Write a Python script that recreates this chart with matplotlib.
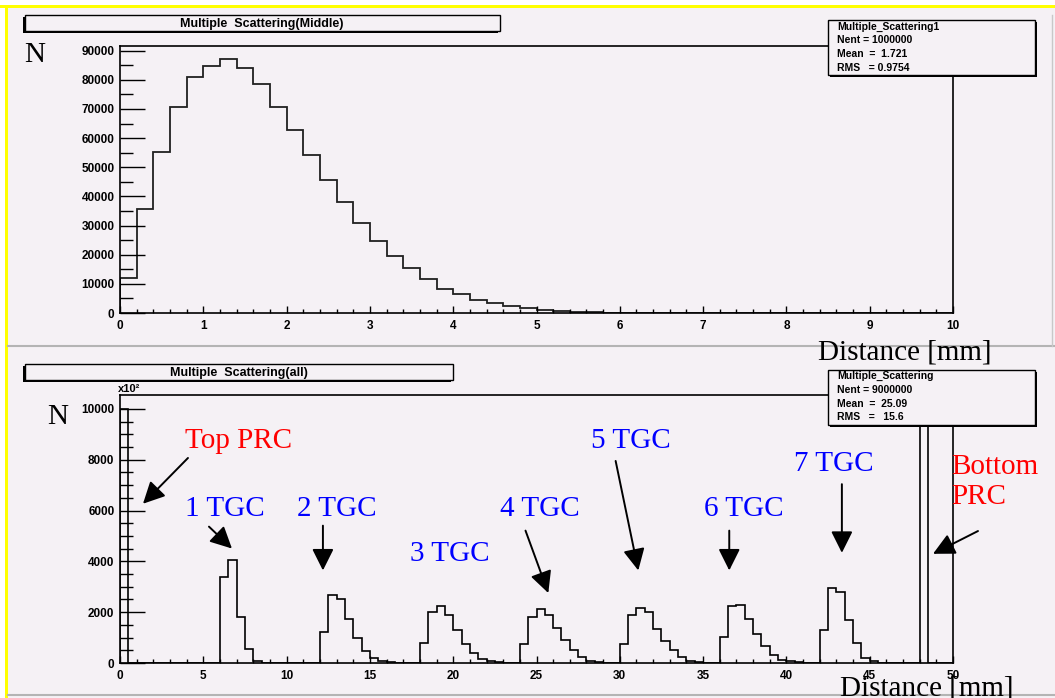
import numpy as np
import matplotlib
matplotlib.use("Agg")
import matplotlib.pyplot as plt
from matplotlib.patches import Rectangle

# --- data -------------------------------------------------------------
# upper histogram: distance in middle layer, 0.2 mm bins from 0 mm
mid_bin = 0.2
mid_counts = [12000, 35700, 55400, 70800, 80900, 84900, 87000, 84100, 78400, 70800,
              62900, 54200, 45600, 38100, 30900, 24800, 19400, 15400, 11600, 8240,
              6500, 4570, 3300, 2500, 1720, 1030, 560, 340, 200, 100]

# lower histogram: all layers, 0.5 mm bins, counts in units of 10^2
all_bin = 0.5
prc_top = [10000]
tgc1 = [3375, 4070, 1800, 570, 95]
tgc2 = [1230, 2675, 2515, 1720, 965, 475, 190, 70, 30]
tgc3 = [790, 2025, 2260, 1880, 1310, 755, 400, 175, 95, 40]
tgc4 = [730, 1800, 2145, 1880, 1365, 890, 530, 250, 95, 30]
tgc5 = [755, 1890, 2170, 2010, 1340, 870, 520, 240, 95, 30]
tgc6 = [1010, 2260, 2300, 1745, 1125, 675, 320, 135, 60, 20]
tgc7 = [1310, 2965, 2805, 1705, 770, 215, 60]
prc_bottom = [10000]
layer_starts = [0, 6, 12, 18, 24, 30, 36, 42, 48]
layers = [prc_top, tgc1, tgc2, tgc3, tgc4, tgc5, tgc6, tgc7, prc_bottom]

mid_stats = ["Multiple_Scattering1", "Nent = 1000000", "Mean  =  1.721", "RMS   = 0.9754"]
all_stats = ["Multiple_Scattering", "Nent = 9000000", "Mean  =  25.09", "RMS   =   15.6"]

# --- layout helpers (image pixels -> figure fraction) -----------------
W, H = 1055, 698
PAD = "#f5f1f5"
SANS = "Liberation Sans"
SERIF = "Liberation Serif"


def fx(x):
    return x / W


def fy(y):
    return 1 - y / H


def root_box(x0, y0, x1, y1, dx, dy):
    shadow = Rectangle((fx(x0 + dx), fy(y1 + dy)), (x1 - x0) / W, (y1 - y0) / H,
                       transform=fig.transFigure, facecolor="black", edgecolor="none", zorder=8)
    box = Rectangle((fx(x0), fy(y1)), (x1 - x0) / W, (y1 - y0) / H,
                    transform=fig.transFigure, facecolor=PAD, edgecolor="black", lw=1.0, zorder=9)
    fig.add_artist(shadow)
    fig.add_artist(box)


def style_axes(ax, xmaj, xmin, ymaj, ymin, xlim, ylim):
    ax.set_facecolor(PAD)
    ax.set_xlim(*xlim)
    ax.set_ylim(*ylim)
    ax.set_xticks(xmaj)
    ax.set_xticks(xmin, minor=True)
    ax.set_yticks(ymaj)
    ax.set_yticks(ymin, minor=True)
    ax.set_xticklabels([f"{v:g}" for v in xmaj])
    ax.set_yticklabels([f"{v:g}" for v in ymaj])
    ax.tick_params(axis="x", which="major", direction="in", length=5, width=1.0, pad=5)
    ax.tick_params(axis="x", which="minor", direction="in", length=3, width=1.0)
    ax.tick_params(axis="y", which="major", direction="in", length=18, width=1.0, pad=4)
    ax.tick_params(axis="y", which="minor", direction="in", length=9, width=1.0)
    for lab in ax.get_xticklabels() + ax.get_yticklabels():
        lab.set_fontfamily(SANS)
        lab.set_fontweight("bold")
        lab.set_fontsize(8.5)
    for sp in ax.spines.values():
        sp.set_linewidth(1.2)


fig = plt.figure(figsize=(W / 100, H / 100), dpi=100, facecolor="white")

# pad background, yellow border, separators
fig.add_artist(Rectangle((fx(8), 0), 1 - fx(8), fy(8), transform=fig.transFigure,
                         facecolor=PAD, edgecolor="none", zorder=-2))
fig.add_artist(Rectangle((0, fy(8)), 1, 3 / H, transform=fig.transFigure,
                         facecolor="#ffff00", edgecolor="none", zorder=-1))
fig.add_artist(Rectangle((fx(5), 0), 3 / W, fy(5), transform=fig.transFigure,
                         facecolor="#ffff00", edgecolor="none", zorder=-1))
for yy in (346, 695):
    fig.add_artist(plt.Line2D([fx(8), 1], [fy(yy), fy(yy)], transform=fig.transFigure,
                              color="#b4b4b4", lw=1.5, zorder=-1))
fig.add_artist(plt.Line2D([fx(1052), fx(1052)], [fy(15), fy(346)], transform=fig.transFigure,
                          color="#c8c8c8", lw=1.0, zorder=-1))

# --- upper histogram --------------------------------------------------
ax1 = fig.add_axes([fx(120), fy(313), (953 - 120) / W, (313 - 46) / H])
mid_vals = np.zeros(int(round(10 / mid_bin)))
mid_vals[:len(mid_counts)] = mid_counts
mid_edges = np.arange(len(mid_vals) + 1) * mid_bin
ax1.stairs(mid_vals, mid_edges, color="#202020", lw=1.3, baseline=0)
style_axes(ax1, np.arange(0, 11, 1), np.arange(0, 10.01, 0.2),
           np.arange(0, 90001, 10000), np.arange(0, 90001, 5000), (0, 10), (0, 91600))

# --- lower histogram --------------------------------------------------
ax2 = fig.add_axes([fx(120), fy(663), (953 - 120) / W, (663 - 395) / H])
all_vals = np.zeros(int(round(50 / all_bin)))
for start, vals in zip(layer_starts, layers):
    i = int(round(start / all_bin))
    all_vals[i:i + len(vals)] = vals
all_edges = np.arange(len(all_vals) + 1) * all_bin
ax2.stairs(all_vals, all_edges, color="black", lw=1.2, baseline=0)
style_axes(ax2, np.arange(0, 51, 5), np.arange(0, 51, 1),
           np.arange(0, 10001, 2000), np.arange(0, 10001, 500), (0, 50), (0, 10550))

# annotations on lower plot (data coords)
arrow_style = dict(arrowstyle="-|>,head_length=0.6,head_width=0.3",
                   color="black", lw=1.4, mutation_scale=22, shrinkA=0, shrinkB=0)
labels = [
    ("Top PRC", 7.14, 8737, "red", [4.08, 8071], [1.38, 6269]),
    ("1 TGC", 6.27, 6073, "blue", [5.34, 5368], [6.72, 4506]),
    ("2 TGC", 13.03, 6073, "blue", [12.18, 5407], [12.18, 3644]),
    ("3 TGC", 19.81, 4310, "blue", None, None),
    ("4 TGC", 25.18, 6073, "blue", [24.34, 5211], [25.71, 2754]),
    ("5 TGC", 30.67, 8737, "blue", [29.75, 7954], [31.11, 3644]),
    ("6 TGC", 37.42, 6073, "blue", [36.57, 5211], [36.57, 3644]),
    ("7 TGC", 42.86, 7836, "blue", [43.33, 7040], [43.33, 4337]),
]
for text, tx, ty, col, tail, tip in labels:
    ax2.text(tx, ty, text, color=col, fontsize=21, family=SERIF,
             ha="center", va="center", clip_on=False, zorder=6)
    if tail is not None:
        ax2.annotate("", xy=tip, xytext=tail, annotation_clip=False, arrowprops=arrow_style)
ax2.text(49.88, 7130, "Bottom\nPRC", color="red", fontsize=21, family=SERIF,
         ha="left", va="center", linespacing=1.17, clip_on=False, zorder=6)
ax2.annotate("", xy=[48.8, 4298], xytext=[51.5, 5195], annotation_clip=False,
             arrowprops=arrow_style)

# --- title boxes, stats boxes, axis titles ----------------------------
root_box(25, 15, 500, 31, -2, 2)
fig.text(fx(262), fy(24), "Multiple  Scattering(Middle)", family=SANS, weight="bold",
         fontsize=9, ha="center", va="center", zorder=11)
root_box(25, 364, 453, 380, -2, 2)
fig.text(fx(239), fy(373), "Multiple  Scattering(all)", family=SANS, weight="bold",
         fontsize=9, ha="center", va="center", zorder=11)

for top, bottom, lines, ys in [(20, 75, mid_stats, [25.7, 39.3, 53.3, 66.7]),
                               (370, 425, all_stats, [375, 388.7, 402.7, 415.7])]:
    root_box(828, top, 1035, bottom, 2, 2)
    for s, yy in zip(lines, ys):
        fig.text(fx(837), fy(yy + 1), s, family=SANS, weight="bold", fontsize=7.5,
                 ha="left", va="center", zorder=11)

fig.text(fx(35), fy(55), "N", family=SERIF, fontsize=21, ha="center", va="center")
fig.text(fx(58), fy(417), "N", family=SERIF, fontsize=21, ha="center", va="center")
fig.text(fx(905), fy(360), "Distance [mm]", family=SERIF, fontsize=21,
         ha="center", va="baseline", zorder=12)
fig.text(fx(927), fy(696), "Distance [mm]", family=SERIF, fontsize=21,
         ha="center", va="baseline", zorder=12)
fig.text(fx(118), fy(389), "x10²", family=SANS, weight="bold", fontsize=8,
         ha="left", va="center")

fig.savefig("out.png", dpi=100, facecolor="white")
plt.close(fig)
